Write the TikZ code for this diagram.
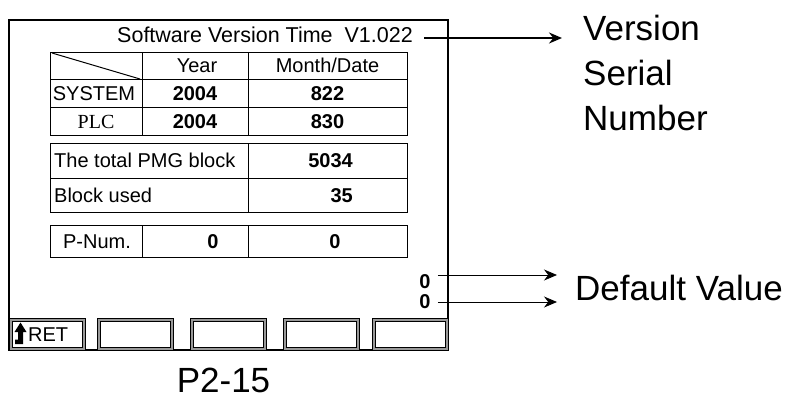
\documentclass[tikz,border=0pt]{standalone}
\usepackage{fontspec}
\setmainfont{Liberation Sans}
\newfontfamily\plcfont{Liberation Serif}
\usetikzlibrary{arrows.meta}

\begin{document}
\begin{tikzpicture}[x=1pt,y=-1pt,
        scr/.style={inner sep=0pt,text height=14.3pt,text depth=0pt,font=\fontsize{20}{24}\selectfont},
        num/.style={scr,font=\fontsize{20}{24}\selectfont\bfseries},
        big/.style={inner sep=0pt,font=\fontsize{35}{45}\selectfont},
        grid/.style={draw=black,line width=1pt},
        key/.style={draw=black,fill=black!40,line width=1pt},
        ptr/.style={-{Stealth[length=13pt,width=11pt]}}]
    \useasboundingbox (0,0) rectangle (796,399);
    % screen frame
    \draw[line width=1.5pt] (9,20) rectangle (448,350);
    \draw[line width=2.5pt] (8,350) -- (449,350);

    \node[scr,text height=15.4pt,font=\fontsize{21.5}{26}\selectfont,anchor=east] (title)
        at (413,34.5) {Software Version Time\ \ V1.022};

    % date table
    \draw[grid] (50,52) rectangle (407,135);
    \draw[grid] (50,79) -- (407,79) (50,107) -- (407,107);
    \draw[grid] (142,52) -- (142,135) (248,52) -- (248,135);
    \draw[grid] (52,53) -- (140,79);
    \node[scr] (year) at (197,65.5) {Year};
    \node[scr] (mdate) at (327.5,65.5) {Month/Date};
    \node[scr] (sysrow) at (94,93) {SYSTEM};
    \node[scr,font=\plcfont\fontsize{20}{24}\selectfont] (plcrow) at (96,121) {PLC};
    \node[num] (sysyear) at (195,93) {2004};
    \node[num] (sysdate) at (327.5,93) {822};
    \node[num] (plcyear) at (195,121) {2004};
    \node[num] (plcdate) at (327.5,121) {830};

    % block table
    \draw[grid] (50,143) rectangle (407,212);
    \draw[grid] (50,178) -- (407,178) (248,143) -- (248,212);
    \node[scr,anchor=west] (total) at (54,160.5) {The total PMG block};
    \node[num,anchor=east] (totalnum) at (353,160.5) {5034};
    \node[scr,anchor=west] (used) at (54,195) {Block used};
    \node[num,anchor=east] (usednum) at (353,195) {35};

    % p-number row
    \draw[grid] (50,225) rectangle (407,257);
    \draw[grid] (142,225) -- (142,257) (248,225) -- (248,257);
    \node[scr] (pnum) at (97,241) {P-Num.};
    \node[num] (pnuma) at (213,241) {0};
    \node[num] (pnumb) at (335,241) {0};

    \node[num] (zeroa) at (425,281) {0};
    \node[num] (zerob) at (425,301) {0};

    % soft keys
    \foreach \bx in {9,97,190,283,372} {
        \draw[key] (\bx,318) rectangle ++(76,32);
        \draw[grid,fill=white] (\bx+3,321) rectangle ++(70,26);
    }
    \fill (20.5,322.5) -- (26.5,332) -- (23,332) -- (23,344) -- (15,344) -- (15,339.5)
        -- (18,339.5) -- (18,332) -- (14.5,332) -- cycle;
    \node[scr,anchor=west] (ret) at (28,334) {RET};

    % labels
    \node[big,align=left,anchor=north west] (version) at (583,15) {Version\\Serial\\Number};
    \node[big,anchor=base west] (default) at (575,300) {Default Value};
    \node[big,anchor=base] (page) at (223.5,392) {P2-15};

    \coordinate (titleout) at ([xshift=11pt,yshift=-3.5pt]title.east);
    \coordinate (verin) at ([xshift=-21pt]version.west);
    \draw[ptr,line width=1.6pt] (titleout) -- (titleout -| verin);
    \coordinate (zaout) at ([xshift=7pt,yshift=6pt]zeroa.east);
    \coordinate (zbout) at ([xshift=7pt,yshift=-1pt]zerob.east);
    \coordinate (dfltin) at ([xshift=-18pt]default.west);
    \draw[ptr,line width=0.8pt] (zaout) -- (zaout -| dfltin);
    \draw[ptr,line width=0.8pt] (zbout) -- (zbout -| dfltin);
\end{tikzpicture}
\end{document}
